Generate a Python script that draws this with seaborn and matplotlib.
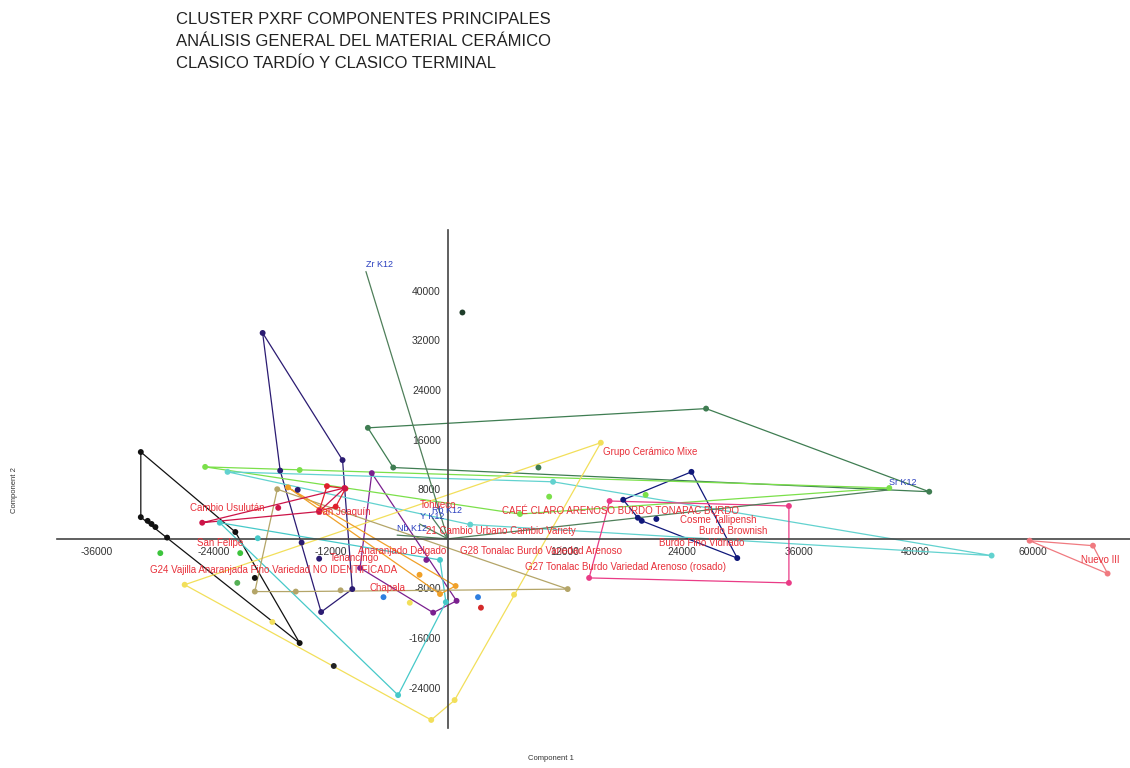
import matplotlib
matplotlib.use("Agg")
import matplotlib.pyplot as plt
import numpy as np
import pandas as pd
import seaborn as sns

TITLE_LINES = [
    "CLUSTER PXRF COMPONENTES PRINCIPALES",
    "ANÁLISIS GENERAL DEL MATERIAL CERÁMICO",
    "CLASICO TARDÍO Y CLASICO TERMINAL",
]
X_TICKS = [-36000, -24000, -12000, 12000, 24000, 36000, 48000, 60000]
Y_TICKS = [-24000, -16000, -8000, 8000, 16000, 24000, 32000, 40000]

# group scores (Component 1, Component 2)
black_x = [-31500, -31500, -30800, -30400, -30000, -28800, -21800, -19800, -15200]
black_y = [14000, 3500, 2900, 2400, 1900, 200, 1100, -6300, -16800]
indigo_x = [-19000, -10800, -9800, -13000, -17200, -15400, -15000, -13200]
indigo_y = [33200, 12700, -8100, -11800, 11000, 7900, -600, -3200]
purple_x = [-7800, -9000, -1500, 900, -2200]
purple_y = [10600, -4700, -11900, -10000, -3400]
navy_x = [25000, 29700, 19500, 18000, 21400, 19900]
navy_y = [10800, -3100, 3400, 6300, 3200, 2900]
dkgreen_x = [-8200, -5600, 9300, 26500, 49400]
dkgreen_y = [17900, 11500, 11500, 21000, 7600]
lime_x = [-24900, 45300, 20300, 10400, 7400, -15200]
lime_y = [11600, 8200, 7100, 6800, 4000, 11100]
cyan_x = [-23400, -19500, -5100, -200, -800]
cyan_y = [2600, 100, -25200, -10200, -3400]
teal_x = [-22600, 10800, 55800, 2300]
teal_y = [10800, 9200, -2700, 2300]
yellow_x = [-1700, 700, 15700, -27000, -18000, 6800, -3900]
yellow_y = [-29200, -26000, 15500, -7400, -13400, -9000, -10300]
olive_x = [-19800, -15600, 12300, -11000, -17500]
olive_y = [-8500, -8500, -8100, -8300, 8000]
orange_x = [-16400, 800, -800, -2900]
orange_y = [8300, -7600, -8900, -5800]
red_x = [-12400, -11500, -13200, -10500]
red_y = [8500, 5200, 4500, 8100]
crimson_x = [-25200, -17400, -13200, -10600]
crimson_y = [2600, 5000, 4400, 8200]
pink_x = [14500, 35000, 35000, 16600]
pink_y = [-6300, -7100, 5300, 6100]
salmon_x = [59700, 66200, 67700]
salmon_y = [-300, -1100, -5600]
loose_x = [1500, -11700, 3100, -6600, 3400, -29500, -21300, -21600]
loose_y = [36500, -20500, -9400, -9400, -11100, -2300, -2300, -7100]
loose_c = ["#1f3d2a", "#222222", "#2f7fe0", "#2f7fe0", "#d42a2a", "#3cc43c", "#3cc43c", "#55b055"]

GROUP_COLORS = {
    "black": "#111111", "indigo": "#2b1b72", "purple": "#7a1f8f",
    "navy": "#10187a", "dkgreen": "#3f7d52", "lime": "#7be04a",
    "cyan": "#46c9c9", "teal": "#62d2cf", "yellow": "#f2df5a", "olive": "#b4a568",
    "orange": "#f0a028", "red": "#e0202c", "crimson": "#cc1448",
    "pink": "#ea3b86", "salmon": "#f07a80",
}

# loadings (biplot)
LOAD_NAMES = ["Zr K12", "Sr K12", "Rb K12", "Y K12", "Nb K12"]
LOAD_X = [-8400, 45300, -1600, -2900, -5200]
LOAD_Y = [43100, 7900, 3400, 2400, 600]

LABEL_TEXT = [
    "Grupo Cerámico Mixe", "Cambio Usulután", "San Joaquín", "Tohueco",
    "CAFÉ CLARO ARENOSO BURDO TONAPAC BURDO", "Cosme Tallipensh",
    "Burdo Brownish", "Burdo Fino Vidriado", "21 Cambio Urbano Cambio Variety",
    "San Felipe", "Anaranjado Delgado", "G28 Tonalac Burdo Variedad Arenoso",
    "G27 Tonalac Burdo Variedad Arenoso (rosado)",
    "G24 Vajilla Anaranjada Fino Variedad NO IDENTIFICADA", "Chapala",
    "Tenancingo", "Nuevo III",
]
LABEL_X = [15900, -26500, -13500, -2900, 5600, 23800, 25800, 21700, -2200,
           -25700, -9200, 1300, 7900, -30600, -8000, -12100, 65000]
LABEL_Y = [14000, 5000, 4400, 5400, 4500, 3100, 1300, -600, 1300,
           -600, -1900, -1900, -4500, -5000, -7900, -3100, -3400]


def hull(x, y):
    pts = sorted(set(zip(x, y)))
    if len(pts) < 3:
        return pts

    def cross(o, a, b):
        return (a[0] - o[0]) * (b[1] - o[1]) - (a[1] - o[1]) * (b[0] - o[0])

    lower, upper = [], []
    for p in pts:
        while len(lower) >= 2 and cross(lower[-2], lower[-1], p) <= 0:
            lower.pop()
        lower.append(p)
    for p in reversed(pts):
        while len(upper) >= 2 and cross(upper[-2], upper[-1], p) <= 0:
            upper.pop()
        upper.append(p)
    h = lower[:-1] + upper[:-1]
    return h + [h[0]]


groups = {
    "black": (black_x, black_y), "indigo": (indigo_x, indigo_y),
    "purple": (purple_x, purple_y), "navy": (navy_x, navy_y),
    "dkgreen": (dkgreen_x, dkgreen_y), "lime": (lime_x, lime_y),
    "cyan": (cyan_x, cyan_y), "teal": (teal_x, teal_y),
    "yellow": (yellow_x, yellow_y),
    "olive": (olive_x, olive_y), "orange": (orange_x, orange_y),
    "red": (red_x, red_y), "crimson": (crimson_x, crimson_y),
    "pink": (pink_x, pink_y), "salmon": (salmon_x, salmon_y),
}
df = pd.concat(
    [pd.DataFrame({"c1": gx, "c2": gy, "group": g}) for g, (gx, gy) in groups.items()],
    ignore_index=True,
)

sns.set_theme(style="white")
plt.rcParams["font.family"] = ["Liberation Sans", "DejaVu Sans"]

fig = plt.figure(figsize=(11.3, 7.68), dpi=100)
ax = fig.add_axes([57 / 1130, 1 - 728 / 768, 1 - 57 / 1130, (728 - 230) / 768])

for g, (gx, gy) in groups.items():
    h = hull(gx, gy)
    ax.plot([p[0] for p in h], [p[1] for p in h], color=GROUP_COLORS[g], lw=0.9, zorder=2)

for name, lx, ly in zip(LOAD_NAMES, LOAD_X, LOAD_Y):
    ax.plot([0, lx], [0, ly], color="#4f7f5a", lw=0.9, zorder=2)
    ax.text(lx, ly + 400, name, color="#2a3fbf", fontsize=6.5, ha="left", va="bottom", zorder=4)

sns.scatterplot(data=df, x="c1", y="c2", hue="group", palette=GROUP_COLORS,
                s=18, edgecolor="none", legend=False, ax=ax, zorder=3)
ax.scatter(loose_x, loose_y, c=loose_c, s=18, edgecolors="none", zorder=3)

for t, lx, ly in zip(LABEL_TEXT, LABEL_X, LABEL_Y):
    ax.text(lx, ly, t, color="#e8303a", fontsize=7, ha="left", va="center", zorder=4)

ax.set_xlim(-40100, 70000)
ax.set_ylim(-30500, 49800)
for side in ["top", "right"]:
    ax.spines[side].set_visible(False)
ax.spines["left"].set_position(("data", 0))
ax.spines["bottom"].set_position(("data", 0))
for side in ["left", "bottom"]:
    ax.spines[side].set_color("#444444")
    ax.spines[side].set_linewidth(1.2)
ax.set_xticks(X_TICKS)
ax.set_yticks(Y_TICKS)
ax.set_xticklabels([str(v) for v in X_TICKS])
ax.set_yticklabels([str(v) for v in Y_TICKS])
ax.tick_params(axis="x", direction="in", length=4, pad=6, labelsize=7.5, colors="#444444", labelcolor="#333333")
ax.tick_params(axis="y", direction="out", length=4, pad=1, labelsize=7.5, colors="#444444", labelcolor="#333333")
ax.set_xlabel("")
ax.set_ylabel("")
ax.grid(False)
ax.set_facecolor("none")

for i, line in enumerate(TITLE_LINES):
    fig.text(176 / 1130, 1 - (19 + 22 * i) / 768, line, fontsize=12, color="#222222",
             ha="left", va="center")
fig.text(551 / 1130, 1 - 758 / 768, "Component 1", fontsize=5.5, color="#333333", ha="center", va="center")
fig.text(15 / 1130, 1 - 490 / 768, "Component 2", fontsize=5.5, color="#333333",
         ha="center", va="center", rotation=90)

fig.savefig("out.png", dpi=100)
